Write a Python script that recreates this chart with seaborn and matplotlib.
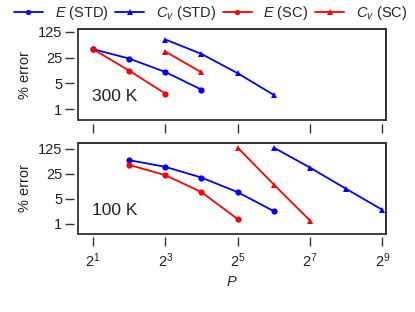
import numpy as np
import pandas as pd
import seaborn as sns
import matplotlib
matplotlib.use("Agg")
from matplotlib import pyplot as plt
from matplotlib.ticker import FixedLocator, LogFormatterMathtext, NullLocator

# dados (erro percentual x P)
series = ["$E$ (STD)", "$C_v$ (STD)", "$E$ (SC)", "$C_v$ (SC)"]
cores = ["#0000ff", "#0000ff", "#ff0000", "#ff0000"]
marcadores = ["o", "^", "o", "^"]

# 300 K
p300_e_std = [2, 4, 8, 16]
err300_e_std = [42.3, 23.5, 10.2, 3.4]
p300_cv_std = [8, 16, 32, 64]
err300_cv_std = [77, 31.4, 9.45, 2.44]
p300_e_sc = [2, 4, 8]
err300_e_sc = [42.3, 11.1, 2.65]
p300_cv_sc = [8, 16]
err300_cv_sc = [36.3, 10.0]

# 100 K
p100_e_std = [4, 8, 16, 32, 64]
err100_e_std = [59.3, 38.5, 19.3, 7.55, 2.22]
p100_cv_std = [64, 128, 256, 512]
err100_cv_std = [133, 36.7, 9.33, 2.42]
p100_e_sc = [4, 8, 16, 32]
err100_e_sc = [43.6, 22.6, 7.55, 1.33]
p100_cv_sc = [32, 64, 128]
err100_cv_sc = [133, 12.3, 1.21]

xticks = [2, 8, 32, 128, 512]
yticks = [1, 5, 25, 125]


def monta(ps, errs):
    partes = []
    for nome, p, e in zip(series, ps, errs):
        partes.append(pd.DataFrame({"P": p, "erro": e}).assign(Serie=nome))
    return pd.concat(partes, ignore_index=True)


dados300 = monta([p300_e_std, p300_cv_std, p300_e_sc, p300_cv_sc],
                 [err300_e_std, err300_cv_std, err300_e_sc, err300_cv_sc])
dados100 = monta([p100_e_std, p100_cv_std, p100_e_sc, p100_cv_sc],
                 [err100_e_std, err100_cv_std, err100_e_sc, err100_cv_sc])

sns.set_theme(style="white")
plt.rcParams["font.family"] = ["Liberation Sans", "DejaVu Sans"]
plt.rcParams["mathtext.fontset"] = "custom"
plt.rcParams["mathtext.rm"] = "Liberation Sans"
plt.rcParams["mathtext.it"] = "Liberation Sans:italic"
plt.rcParams["font.size"] = 10.5

fig = plt.figure(figsize=(4.15, 3.12), dpi=100)
ax1 = fig.add_axes([0.187, 0.615, 0.743, 0.292])
ax2 = fig.add_axes([0.187, 0.251, 0.743, 0.291])

paleta = dict(zip(series, cores))
marks = dict(zip(series, marcadores))

for ax, dados, rotulo, ylim, ty in [(ax1, dados300, "300 K", (0.51, 148), 0.264),
                                     (ax2, dados100, "100 K", (0.52, 180), 0.254)]:
    sns.lineplot(data=dados, x="P", y="erro", hue="Serie", style="Serie",
                 palette=paleta, markers=marks, dashes=False, ax=ax,
                 linewidth=1.3, markersize=4.5, markeredgewidth=0, legend=True)
    ax.set_xscale("log", base=2)
    ax.set_yscale("log")
    ax.set_xlim(1.49, 549)
    ax.set_ylim(*ylim)
    ax.xaxis.set_major_locator(FixedLocator(xticks))
    ax.xaxis.set_minor_locator(NullLocator())
    ax.xaxis.set_major_formatter(LogFormatterMathtext(base=2))
    ax.yaxis.set_major_locator(FixedLocator(yticks))
    ax.yaxis.set_minor_locator(NullLocator())
    ax.set_yticklabels([str(t) for t in yticks])
    ax.set_ylabel("% error", fontsize=10.5, labelpad=4)
    ax.set_xlabel("")
    ax.text(0.047, ty, rotulo, transform=ax.transAxes, fontsize=12.5,
            va="center", ha="left", color="#222222")
    # moldura + ticks afastados
    for s in ["left", "bottom"]:
        ax.spines[s].set_position(("outward", 2.5))
        ax.spines[s].set_visible(False)
    for s in ["top", "right"]:
        ax.spines[s].set_color("#333333")
        ax.spines[s].set_linewidth(1.3)
    ax.patch.set_edgecolor("#333333")
    ax.patch.set_linewidth(1.3)
    ax.tick_params(axis="both", direction="out", length=6.5, width=1,
                   color="#333333", labelsize=10.5, labelcolor="#222222",
                   left=True, bottom=True, pad=2)
    ax.tick_params(axis="x", pad=4)

handles, labels = ax1.get_legend_handles_labels()
ax1.get_legend().remove()
ax2.get_legend().remove()
ax1.tick_params(axis="x", labelbottom=False)
ax2.set_xlabel("$P$", fontsize=10.5, labelpad=3)

fig.legend(handles, labels, loc="center", bbox_to_anchor=(0.507, 0.958), ncol=4,
           frameon=False, fontsize=10.5, handlelength=2.0, handletextpad=0.8,
           columnspacing=0.45, borderaxespad=0, markerscale=0.85)

fig.savefig("out.png", dpi=100)
